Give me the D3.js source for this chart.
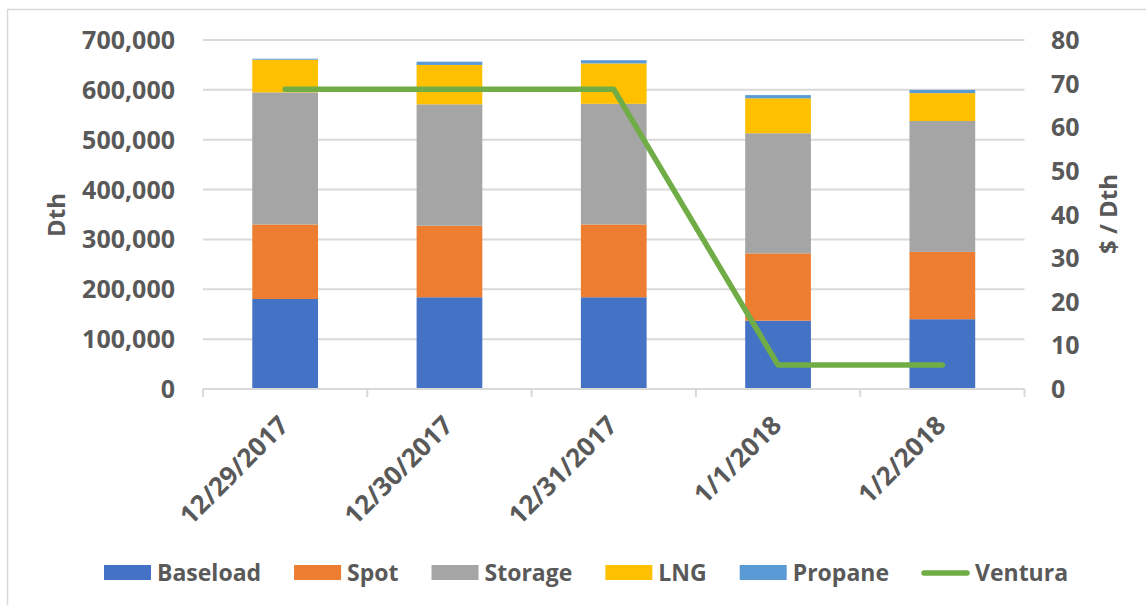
<!DOCTYPE html>
<html>
<head>
<meta charset="utf-8">
<script src="https://cdn.jsdelivr.net/npm/d3@7/dist/d3.min.js"></script>
<style>
    body { margin: 0; background: #fff; }
    svg text { font-family: "Open Sans", Lato, sans-serif; font-weight: bold; fill: #595959; }
</style>
</head>
<body>
<svg id="chart" width="1146" height="605"></svg>
<script>
var dates = ["12/29/2017", "12/30/2017", "12/31/2017", "1/1/2018", "1/2/2018"];
var baseload = [180500, 184000, 184000, 137000, 140000];
var spot = [149500, 143500, 146000, 135000, 135000];
var storage = [265000, 243500, 242000, 241000, 262500];
var lng = [65500, 79000, 81000, 70000, 56000];
var propane = [2000, 6500, 6500, 6500, 6500];
var ventura = [68.7, 68.7, 68.7, 5.5, 5.5];
var leftTicks = [0, 100000, 200000, 300000, 400000, 500000, 600000, 700000];
var rightTicks = [0, 10, 20, 30, 40, 50, 60, 70, 80];

var seriesNames = ["Baseload", "Spot", "Storage", "LNG", "Propane"];
var seriesColors = ["#4472C4", "#ED7D31", "#A5A5A5", "#FFC000", "#5B9BD5"];
var lineColor = "#70AD47";

var svg = d3.select("#chart");
var plot = { left: 203, right: 1024.5, top: 40, bottom: 389 };

// outer frame
svg.append("rect")
    .attr("x", 7.5).attr("y", 9.5)
    .attr("width", 1160).attr("height", 620)
    .attr("fill", "none")
    .attr("stroke", "#d9d9d9")
    .attr("stroke-width", 1.5);

var x = d3.scaleBand()
    .domain(dates)
    .range([plot.left, plot.right])
    .paddingInner(0.6)
    .paddingOuter(0.3);

var y = d3.scaleLinear().domain([0, 700000]).range([plot.bottom, plot.top]);
var y2 = d3.scaleLinear().domain([0, 80]).range([plot.bottom, plot.top]);

// gridlines
svg.append("g")
    .selectAll("line")
    .data(leftTicks.slice(1))
    .enter().append("line")
    .attr("x1", plot.left).attr("x2", plot.right)
    .attr("y1", function (d) { return y(d); })
    .attr("y2", function (d) { return y(d); })
    .attr("stroke", "#d9d9d9")
    .attr("stroke-width", 2);

// stacked bars
var rows = dates.map(function (d, i) {
    return { date: d, Baseload: baseload[i], Spot: spot[i], Storage: storage[i], LNG: lng[i], Propane: propane[i] };
});
var stacked = d3.stack().keys(seriesNames)(rows);

svg.append("g")
    .selectAll("g")
    .data(stacked)
    .enter().append("g")
    .attr("fill", function (d, i) { return seriesColors[i]; })
    .selectAll("rect")
    .data(function (d) { return d; })
    .enter().append("rect")
    .attr("x", function (d) { return x(d.data.date); })
    .attr("width", x.bandwidth())
    .attr("y", function (d) { return y(d[1]); })
    .attr("height", function (d) { return y(d[0]) - y(d[1]); });

// x axis line with boundary ticks
var step = x.step();
var start = plot.left;
var axis = svg.append("g").attr("stroke", "#d9d9d9").attr("stroke-width", 2);
axis.append("line")
    .attr("x1", plot.left).attr("x2", plot.right)
    .attr("y1", plot.bottom).attr("y2", plot.bottom);
axis.selectAll("line.tick")
    .data(d3.range(dates.length + 1))
    .enter().append("line")
    .attr("class", "tick")
    .attr("x1", function (i) { return start + i * step; })
    .attr("x2", function (i) { return start + i * step; })
    .attr("y1", plot.bottom).attr("y2", plot.bottom + 8);

// x labels
svg.append("g")
    .selectAll("text")
    .data(dates)
    .enter().append("text")
    .attr("text-anchor", "end")
    .attr("font-size", 26)
    .attr("transform", function (d) {
        return "translate(" + (x(d) + x.bandwidth() / 2 + 5) + "," + (plot.bottom + 38) + ") rotate(-45)";
    })
    .text(function (d) { return d; });

// left ticks
var fmt = d3.format(",");
svg.append("g")
    .selectAll("text")
    .data(leftTicks)
    .enter().append("text")
    .attr("x", 175)
    .attr("y", function (d) { return y(d); })
    .attr("dy", "0.36em")
    .attr("text-anchor", "end")
    .attr("font-size", 25)
    .text(function (d) { return fmt(d); });

// right ticks
svg.append("g")
    .selectAll("text")
    .data(rightTicks)
    .enter().append("text")
    .attr("x", 1051)
    .attr("y", function (d) { return y2(d); })
    .attr("dy", "0.36em")
    .attr("font-size", 25)
    .text(function (d) { return d; });

// axis titles
svg.append("text")
    .attr("transform", "translate(65,215) rotate(-90)")
    .attr("text-anchor", "middle")
    .attr("font-size", 24)
    .text("Dth");

svg.append("text")
    .attr("transform", "translate(1117,214) rotate(-90)")
    .attr("text-anchor", "middle")
    .attr("font-size", 24)
    .text("$ / Dth");

// Ventura line
var line = d3.line()
    .x(function (d, i) { return x(dates[i]) + x.bandwidth() / 2; })
    .y(function (d) { return y2(d); });

svg.append("path")
    .datum(ventura)
    .attr("d", line)
    .attr("fill", "none")
    .attr("stroke", lineColor)
    .attr("stroke-width", 5.5)
    .attr("stroke-linejoin", "round")
    .attr("stroke-linecap", "round");

// legend
var legendItems = seriesNames.map(function (n, i) { return { name: n, color: seriesColors[i], type: "rect" }; });
legendItems.push({ name: "Ventura", color: lineColor, type: "line" });

var lx = 104;
var legend = svg.append("g");
legendItems.forEach(function (item) {
    if (item.type === "rect") {
        legend.append("rect")
            .attr("x", lx).attr("y", 565)
            .attr("width", 47).attr("height", 15)
            .attr("fill", item.color);
    } else {
        legend.append("line")
            .attr("x1", lx + 2).attr("x2", lx + 45)
            .attr("y1", 573).attr("y2", 573)
            .attr("stroke", item.color)
            .attr("stroke-width", 5.5)
            .attr("stroke-linecap", "round");
    }
    var t = legend.append("text")
        .attr("x", lx + 53)
        .attr("y", 580.5)
        .attr("font-size", 23)
        .text(item.name);
    lx += 53 + t.node().getComputedTextLength() + 33;
});
</script>
</body>
</html>
